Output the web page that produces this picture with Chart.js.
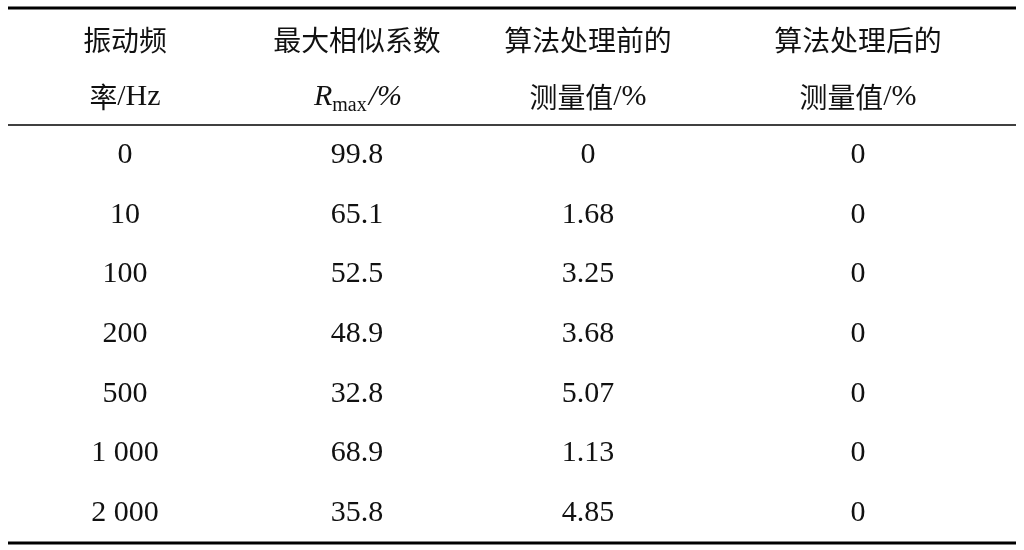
<!DOCTYPE html>
<html><head><meta charset="utf-8">
<script src="https://cdn.jsdelivr.net/npm/chart.js@4/dist/chart.umd.min.js"></script>
<style>html,body{margin:0;padding:0;background:#fff}#w{width:1024px;height:550px}</style>
</head><body><div id="w"><canvas id="c"></canvas></div>
<script>
const headerRow1 = ["振动频", "最大相似系数", "算法处理前的", "算法处理后的"];
const headerRow2 = ["率/Hz", "R|max|/%", "测量值/%", "测量值/%"];
const frequencies = ["0", "10", "100", "200", "500", "1 000", "2 000"];
const rmax = ["99.8", "65.1", "52.5", "48.9", "32.8", "68.9", "35.8"];
const before = ["0", "1.68", "3.25", "3.68", "5.07", "1.13", "4.85"];
const after = ["0", "0", "0", "0", "0", "0", "0"];

const colX = [125, 357, 588, 858];
const serif = '"Liberation Serif", "Times New Roman", serif';
const cjk = '"Noto Sans CJK SC", sans-serif';

const tablePlugin = {
  id: 'table',
  afterDraw(chart) {
    const ctx = chart.ctx, xs = chart.scales.x, ys = chart.scales.y;
    const X = v => xs.getPixelForValue(v), Y = v => ys.getPixelForValue(v);
    ctx.save();
    ctx.strokeStyle = '#000'; ctx.fillStyle = '#111';
    const rule = (y, w) => { ctx.lineWidth = w; ctx.beginPath(); ctx.moveTo(X(8), Y(y)); ctx.lineTo(X(1016), Y(y)); ctx.stroke(); };
    rule(8, 3); rule(125, 1.3); rule(543, 3);
    ctx.textAlign = 'center'; ctx.textBaseline = 'middle';
    // mixed text: CJK chars in CJK font, others in serif
    function mixed(str, cx, cy, size) {
      const parts = [];
      for (const ch of str) {
        const isC = /[\u3000-\u9fff\uff00-\uffef]/.test(ch);
        parts.push({ch, font: (isC ? size*0.93 + 'px ' + cjk : size + 'px ' + serif)});
      }
      let w = 0; parts.forEach(p => { ctx.font = p.font; p.w = ctx.measureText(p.ch).width; w += p.w; });
      let x = cx - w/2; ctx.textAlign = 'left';
      parts.forEach(p => { ctx.font = p.font; ctx.fillText(p.ch, x, cy); x += p.w; });
      ctx.textAlign = 'center';
    }
    headerRow1.forEach((t, i) => mixed(t, X(colX[i]), Y(40), 30));
    headerRow2.forEach((t, i) => {
      if (t.includes('|')) {
        const [a, b, c] = t.split('|');
        ctx.font = 'italic 30px ' + serif; const wa = ctx.measureText(a).width;
        ctx.font = '20px ' + serif; const wb = ctx.measureText(b).width;
        ctx.font = '30px ' + serif; const wc = ctx.measureText(c).width;
        let x = X(colX[i]) - (wa+wb+wc)/2; ctx.textAlign = 'left';
        ctx.font = 'italic 30px ' + serif; ctx.fillText(a, x, Y(97)); x += wa;
        ctx.font = '20px ' + serif; ctx.fillText(b, x, Y(106)); x += wb;
        ctx.font = 'italic 30px ' + serif; ctx.fillText(c, x + 2, Y(97));
        ctx.textAlign = 'center';
      } else mixed(t, X(colX[i]), Y(97), 30);
    });
    const cols = [frequencies, rmax, before, after];
    ctx.font = '30px ' + serif;
    cols.forEach((col, i) => col.forEach((v, r) => {
      ctx.fillText(v, X(colX[i]), Y(155 + r * 59.7));
    }));
    ctx.restore();
  }
};

new Chart(document.getElementById('c'), {
  type: 'scatter',
  data: { datasets: [] },
  options: {
    responsive: true, maintainAspectRatio: false, animation: false,
    layout: { padding: 0 },
    plugins: { legend: { display: false }, tooltip: { enabled: false } },
    scales: {
      x: { type: 'linear', min: 0, max: 1024, display: false },
      y: { type: 'linear', min: 0, max: 550, reverse: true, display: false }
    }
  },
  plugins: [tablePlugin]
});
</script></body></html>
